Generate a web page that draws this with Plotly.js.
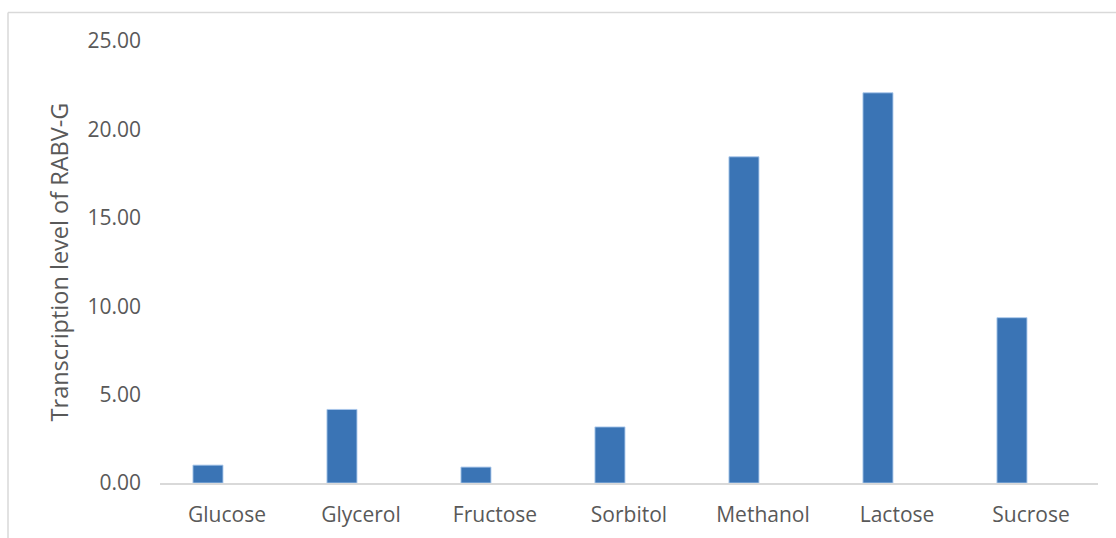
<!DOCTYPE html>
<html>
<head>
<meta charset="utf-8">
<script src="https://cdn.plot.ly/plotly-3.0.1.min.js"></script>
<style>html,body{margin:0;padding:0;background:#fff;}#chart{width:1116px;height:538px;}</style>
</head>
<body>
<div id="chart"></div>
<script>
const categories = ["Glucose", "Glycerol", "Fructose", "Sorbitol", "Methanol", "Lactose", "Sucrose"];
const transcriptionLevel = [1.01, 4.16, 0.90, 3.17, 18.45, 22.07, 9.35];
const yTickValues = [0, 5, 10, 15, 20, 25];
const yTickLabels = ["0.00", "5.00", "10.00", "15.00", "20.00", "25.00"];
const yAxisTitle = "Transcription level of RABV-G";

const W = 1116, H = 538;
const L = 160, R = 18, T = 41, B = 55;
const pw = W - L - R, ph = H - T - B;
const px = v => (v - L) / pw;
const py = v => (H - B - v) / ph;

const trace = {
  type: "bar",
  x: categories,
  y: transcriptionLevel,
  width: 0.224,
  offset: -0.254,
  marker: { color: "#3A74B5", line: { color: "rgba(170,200,235,0.9)", width: 1 } },
  hoverinfo: "x+y"
};

const font = { family: "Open Sans, sans-serif", size: 21, color: "#595959" };
const titleFont = { family: "Open Sans, sans-serif", size: 23.5, color: "#595959" };

const layout = {
  width: W, height: H,
  margin: { l: L, r: R, t: T, b: B, pad: 0 },
  paper_bgcolor: "#ffffff",
  plot_bgcolor: "#ffffff",
  showlegend: false,
  font: font,
  xaxis: {
    type: "category",
    showgrid: false,
    showline: true,
    linecolor: "#D9D9D9",
    linewidth: 1.5,
    ticks: "",
    ticklabelstandoff: 12,
    tickfont: font,
    zeroline: false,
    fixedrange: true
  },
  yaxis: {
    range: [0, 25],
    tickvals: yTickValues,
    ticktext: yTickLabels,
    showgrid: false,
    showline: false,
    zeroline: false,
    ticks: "",
    ticklabelstandoff: 18,
    tickfont: font,
    title: { text: yAxisTitle, font: titleFont, standoff: 12 },
    fixedrange: true
  },
  shapes: [
    { type: "line", xref: "paper", yref: "paper", x0: px(8), x1: px(W + 5), y0: py(12.5), y1: py(12.5), line: { color: "#D9D9D9", width: 1.5 } },
    { type: "line", xref: "paper", yref: "paper", x0: px(8), x1: px(8), y0: py(12.5), y1: py(H + 5), line: { color: "#D9D9D9", width: 1.5 } }
  ]
};

Plotly.newPlot("chart", [trace], layout, { displayModeBar: false, staticPlot: true });
</script>
</body>
</html>
